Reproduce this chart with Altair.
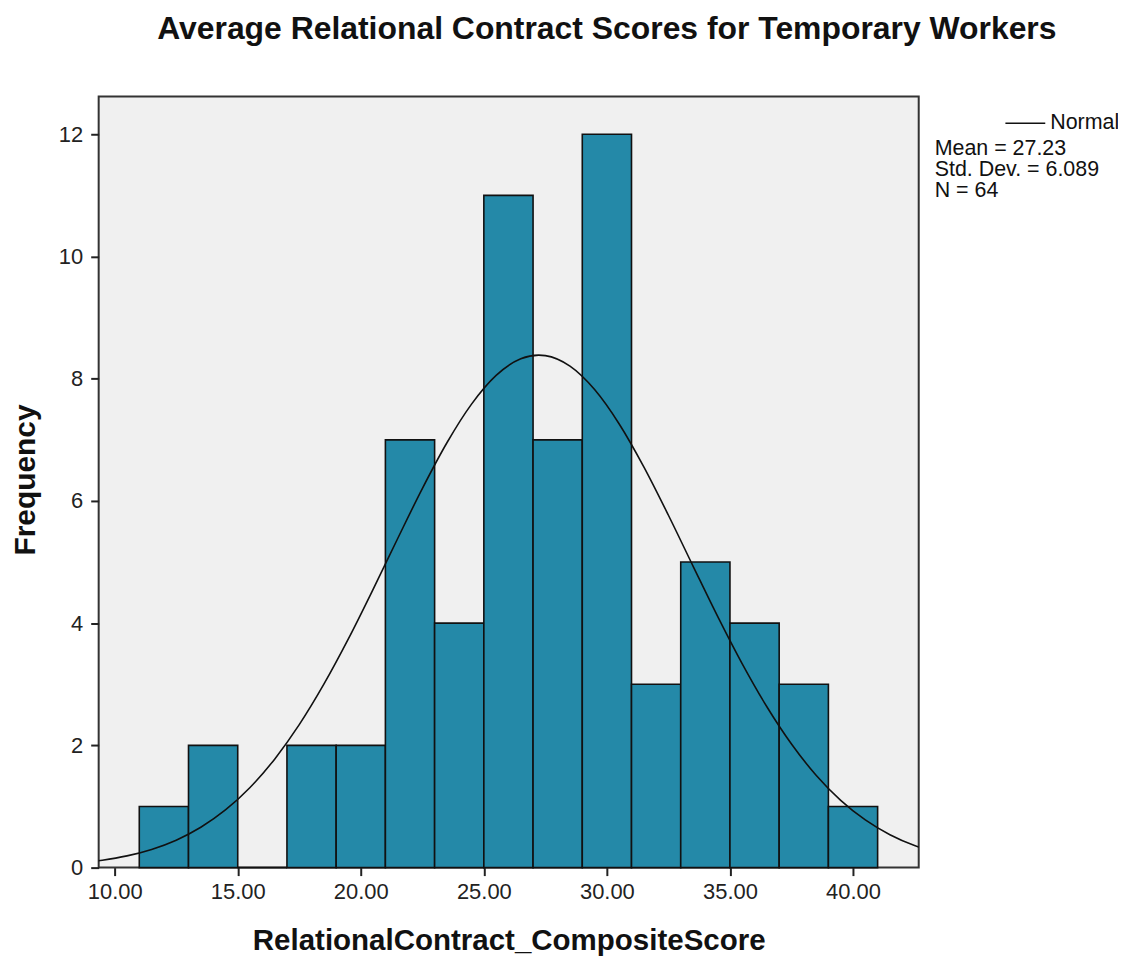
import altair as alt
import pandas as pd

# Histogram bins and frequencies
bin_start = [11, 13, 15, 17, 19, 21, 23, 25, 27, 29, 31, 33, 35, 37, 39]
bin_end = [13, 15, 17, 19, 21, 23, 25, 27, 29, 31, 33, 35, 37, 39, 41]
counts = [1, 2, 0, 2, 2, 7, 4, 11, 7, 12, 3, 5, 4, 3, 1]

# Normal curve
curve_x = [9.0, 9.5, 10.5, 11.5, 12.5, 13.5, 14.5, 15.5, 16.5, 17.5, 18.5, 19.5,
           20.5, 21.5, 22.5, 23.5, 24.5, 25.5, 26.5, 27.23, 27.5, 28.5, 29.5,
           30.5, 31.5, 32.5, 33.5, 34.5, 35.5, 36.5, 37.5, 38.5, 39.5, 40.5,
           41.5, 42.5, 43.0]
curve_y = [0.095, 0.121, 0.192, 0.298, 0.449, 0.660, 0.943, 1.311, 1.775, 2.339,
           3.001, 3.746, 4.553, 5.386, 6.202, 6.952, 7.584, 8.054, 8.326, 8.386,
           8.378, 8.206, 7.823, 7.260, 6.558, 5.766, 4.935, 4.111, 3.334, 2.632,
           2.022, 1.512, 1.101, 0.780, 0.538, 0.361, 0.293]

x_ticks = [10, 15, 20, 25, 30, 35, 40]
y_ticks = [0, 2, 4, 6, 8, 10, 12]

title_text = "Average Relational Contract Scores for Temporary Workers"
x_title = "RelationalContract_CompositeScore"
y_title = "Frequency"
legend_label = "Normal"
stats_lines = ["Mean = 27.23", "Std. Dev. = 6.089", "N = 64"]

bars_df = pd.DataFrame({"start": bin_start, "end": bin_end, "count": counts,
                        "base": [0] * len(counts)})
curve_df = pd.DataFrame({"x": curve_x, "y": curve_y})

FONT = "Liberation Sans"
W, H = 823, 774

xscale = alt.Scale(domain=[9.35, 42.67], nice=False, zero=False)
yscale = alt.Scale(domain=[0, 12.62], nice=False, zero=True)

xaxis = alt.Axis(values=x_ticks, format=".2f", title=None, grid=False, domain=False,
                 tickSize=8, tickWidth=2, tickColor="#222", labelFontSize=22,
                 labelColor="#222", labelPadding=6, labelFont=FONT)
yaxis = alt.Axis(values=y_ticks, format="d", title=None, grid=False, domain=False,
                 tickSize=8, tickWidth=2, tickColor="#222", labelFontSize=22,
                 labelColor="#222", labelPadding=8, labelFont=FONT)

bars = alt.Chart(bars_df).mark_bar(
    color="#2489a8", stroke="#111", strokeWidth=1.6
).encode(
    x=alt.X("start:Q", scale=xscale, axis=xaxis),
    x2="end:Q",
    y=alt.Y("count:Q", scale=yscale, axis=yaxis),
    y2="base:Q",
)

curve = alt.Chart(curve_df).mark_line(
    color="#111", strokeWidth=1.6, interpolate="monotone", clip=True
).encode(
    x=alt.X("x:Q", scale=xscale),
    y=alt.Y("y:Q", scale=yscale),
)

one = pd.DataFrame({"k": [0]})


def label(text, x, y, size=22, bold=False, align="left", baseline="middle", angle=0):
    return alt.Chart(one).mark_text(
        text=text, font=FONT, fontSize=size, fontWeight="bold" if bold else "normal",
        align=align, baseline=baseline, angle=angle, color="#111"
    ).encode(x=alt.value(x), y=alt.value(y))


texts = [
    label(title_text, 510, -58, size=32, bold=True, align="center", baseline="alphabetic"),
    label(x_title, 412, 857, size=29.6, bold=True, align="center", baseline="alphabetic"),
    label(y_title, -64, 385, size=30, bold=True, align="center", baseline="alphabetic", angle=270),
    label(legend_label, 955, 27, size=21.5),
]
for i, s in enumerate(stats_lines):
    texts.append(label(s, 839, 53 + 21 * i, size=21.5))

legend_line = alt.Chart(one).mark_rule(color="#111", strokeWidth=1.6).encode(
    x=alt.value(910), x2=alt.value(950), y=alt.value(27)
)

chart = alt.layer(bars, curve, legend_line, *texts).properties(
    width=W, height=H,
    autosize=alt.AutoSizeParams(type="none"),
    padding={"left": 91, "top": 87, "right": 200, "bottom": 90},
    background="white",
).configure_view(
    fill="#f0f0f0", stroke="#333", strokeWidth=2
)

chart.save("out.html", embed_options={"renderer": "svg", "actions": False})
